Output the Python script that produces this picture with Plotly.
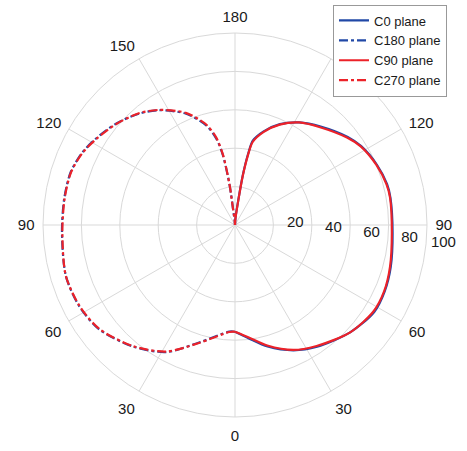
import plotly.graph_objects as go

# polar angle measured from nadir (0 at bottom), values in relative intensity
theta_right = [0, 7, 15, 25, 34, 47, 58, 66, 75, 87, 100, 105, 113, 122, 128, 139, 148, 156, 163, 168, 169.5, 171, 172.5, 176, 180]
c0_vals = [55.6, 59.5, 65.5, 72.0, 76.5, 82.0, 85.5, 85.3, 84.0, 82.2, 82.2, 82.0, 80.3, 77.5, 74.5, 68.0, 63.0, 57.5, 51.0, 45.0, 38.0, 27.0, 13.0, 4.0, 0]
c90_vals = [55.6, 59.0, 65.0, 71.8, 76.0, 82.0, 85.0, 85.0, 83.6, 81.8, 82.0, 81.7, 80.0, 77.2, 74.0, 67.5, 63.0, 57.2, 50.6, 44.2, 36.9, 26.1, 12.0, 3.0, 0]

theta_left = [0, 3, 17, 28.5, 40, 52.5, 62.6, 73.3, 87.6, 98.7, 107.8, 115.5, 121.8, 130.4, 139.3, 146.6, 156.3, 163.9, 167.8, 170.2, 172.3, 173, 176, 180]
c180_vals = [55.6, 55.6, 64.0, 75.3, 82.6, 89.2, 91.5, 92.0, 90.2, 90.0, 89.9, 88.0, 85.3, 81.4, 76.5, 71.6, 63.3, 54.0, 46.0, 36.8, 20.7, 8.4, 2.0, 0]
c270_vals = [55.6, 55.8, 64.3, 75.0, 82.4, 89.0, 91.3, 92.0, 90.0, 89.8, 89.7, 87.8, 85.0, 81.2, 76.8, 71.8, 63.8, 54.6, 46.8, 37.6, 21.5, 9.0, 2.5, 0]

angle_ticks = [0, 30, 60, 90, 120, 150, 180, 210, 240, 270, 300, 330]
angle_labels = ["0", "30", "60", "90", "120", "150", "180", "150", "120", "90", "60", "30"]
radial_ticks = [20, 40, 60, 80, 100]
radial_labels = ["20", "40", "60", "80", "100"]

blue = "#2148a6"
red = "#ec2229"
rad_angle = -7.6
nb = "\u00a0"
radial_text = [nb * (1 if s == "100" else 3) + s for s in radial_labels]

fig = go.Figure()
fig.add_trace(go.Scatterpolar(theta=theta_right, r=c0_vals, mode="lines", name="C0 plane",
                              line=dict(color=blue, width=2.2, shape="spline", smoothing=0.8)))
fig.add_trace(go.Scatterpolar(theta=[360 - t for t in theta_left], r=c180_vals, mode="lines", name="C180 plane",
                              line=dict(color=blue, width=2.2, dash="dashdot", shape="spline", smoothing=0.8)))
fig.add_trace(go.Scatterpolar(theta=theta_right, r=c90_vals, mode="lines", name="C90 plane",
                              line=dict(color=red, width=2.2, shape="spline", smoothing=0.8)))
fig.add_trace(go.Scatterpolar(theta=[360 - t for t in theta_left], r=c270_vals, mode="lines", name="C270 plane",
                              line=dict(color=red, width=2.2, dash="dashdot", shape="spline", smoothing=0.8)))

fig.update_layout(
    width=467, height=451,
    margin=dict(l=0, r=0, t=0, b=0),
    paper_bgcolor="white",
    font=dict(family="Liberation Sans, Arial, sans-serif", size=15, color="#1a1a1a"),
    polar=dict(
        domain=dict(x=[43 / 467, 427 / 467], y=[34 / 451, 418 / 451]),
        bgcolor="white",
        angularaxis=dict(
            rotation=270, direction="counterclockwise",
            tickmode="array", tickvals=angle_ticks, ticktext=angle_labels,
            showgrid=True, gridcolor="#d9d9d9", gridwidth=1,
            showline=True, linecolor="#d9d9d9", linewidth=1,
            ticks="outside", ticklen=5, tickcolor="rgba(0,0,0,0)", tickfont=dict(size=15),
        ),
        radialaxis=dict(
            range=[0, 100], angle=rad_angle, side="counterclockwise", tickangle=rad_angle,
            tickmode="array", tickvals=radial_ticks, ticktext=radial_text,
            showgrid=True, gridcolor="#d9d9d9", gridwidth=1,
            showline=False, ticks="", tickfont=dict(size=15),
        ),
    ),
    legend=dict(
        x=447 / 467, y=0.99, xanchor="right", yanchor="top",
        bgcolor="white", bordercolor="#999999", borderwidth=1,
        font=dict(size=13), tracegroupgap=0, itemwidth=30,
    ),
)

fig.write_html("out.html", config={"displayModeBar": False},
               post_script="document.body.style.margin='0px';")
